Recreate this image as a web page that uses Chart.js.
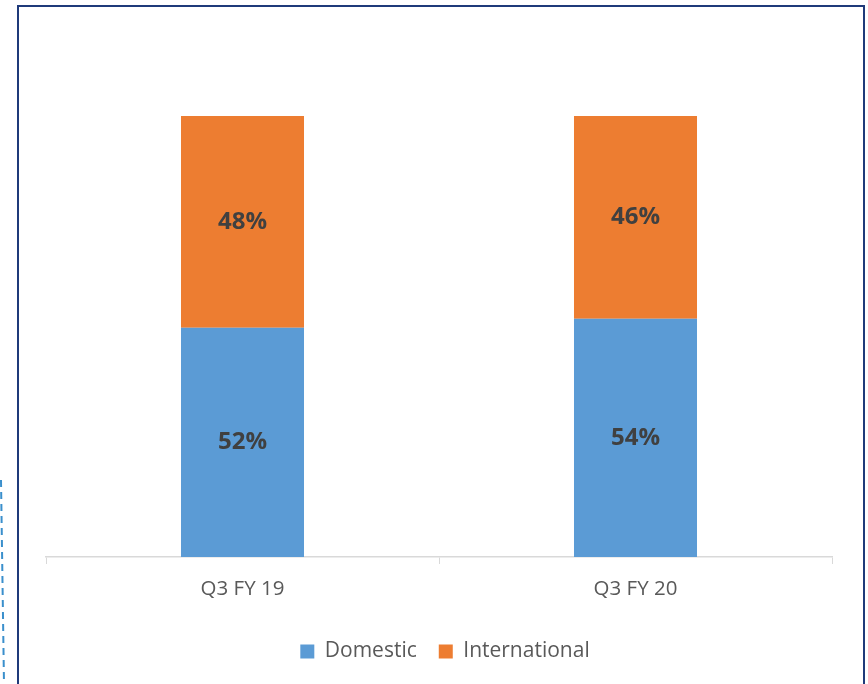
<!DOCTYPE html>
<html lang="en">
<head>
    <meta charset="UTF-8">
    <title>Domestic vs International</title>
    <script src="https://cdn.jsdelivr.net/npm/chart.js"></script>
    <style>
        html, body {
            margin: 0;
            padding: 0;
            background: #ffffff;
            overflow: hidden;
        }

        #wrap {
            position: relative;
            width: 868px;
            height: 684px;
        }

        #frame {
            position: absolute;
            left: 17px;
            top: 5px;
            width: 848px;
            height: 720px;
            box-sizing: border-box;
            border: 2px solid #1f3a7a;
            pointer-events: none;
        }

        canvas {
            position: absolute;
            left: 0;
            top: 0;
        }
    </style>
</head>
<body>
    <div id="wrap">
        <canvas id="shareChart" width="868" height="684"></canvas>
        <div id="frame"></div>
    </div>

    <script>
        const quarters = ["Q3 FY 19", "Q3 FY 20"];
        const domestic = [52, 54];
        const international = [48, 46];

        // percentage labels in the middle of each segment
        const segmentLabels = {
            id: "segmentLabels",
            afterDatasetsDraw(chart) {
                const ctx = chart.ctx;
                ctx.save();
                ctx.font = "bold 24px 'Open Sans'";
                ctx.fillStyle = "#404040";
                ctx.textAlign = "center";
                ctx.textBaseline = "middle";
                chart.data.datasets.forEach((ds, i) => {
                    chart.getDatasetMeta(i).data.forEach((bar, j) => {
                        const mid = (bar.y + bar.base) / 2;
                        ctx.fillText(ds.data[j] + "%", bar.x, mid);
                    });
                });
                ctx.restore();
            }
        };

        // dashed blue edge on the far left of the slide
        const dashedEdge = {
            id: "dashedEdge",
            beforeDraw(chart) {
                const ctx = chart.ctx;
                ctx.save();
                ctx.strokeStyle = "#3a8fcc";
                ctx.lineWidth = 2;
                ctx.setLineDash([7, 5]);
                ctx.beginPath();
                ctx.moveTo(1, 480);
                ctx.lineTo(4, 684);
                ctx.stroke();
                ctx.restore();
            }
        };

        // legend sits a little right of the plot centre in the original
        const nudgeLegend = {
            id: "nudgeLegend",
            afterLayout(chart) {
                chart.legend.left += 6;
                chart.legend.right += 6;
            }
        };

        new Chart(document.getElementById("shareChart"), {
            type: "bar",
            data: {
                labels: quarters,
                datasets: [
                    {
                        label: "Domestic",
                        data: domestic,
                        backgroundColor: "#5b9bd5",
                        barPercentage: 0.313,
                        categoryPercentage: 1
                    },
                    {
                        label: "International",
                        data: international,
                        backgroundColor: "#ed7d31",
                        barPercentage: 0.313,
                        categoryPercentage: 1
                    }
                ]
            },
            options: {
                responsive: false,
                animation: false,
                layout: {
                    padding: { top: 116, left: 46, right: 36, bottom: 12 }
                },
                plugins: {
                    legend: {
                        position: "bottom",
                        labels: {
                            boxWidth: 14,
                            boxHeight: 14,
                            padding: 22,
                            color: "#595959",
                            font: { family: "'Open Sans'", size: 21 }
                        }
                    },
                    tooltip: { enabled: false }
                },
                scales: {
                    x: {
                        stacked: true,
                        grid: {
                            offset: true,
                            drawOnChartArea: false,
                            drawTicks: true,
                            tickLength: 7,
                            color: "#d9d9d9"
                        },
                        border: { color: "#d9d9d9", width: 1.5 },
                        ticks: {
                            color: "#595959",
                            padding: 13,
                            font: { family: "'Open Sans'", size: 20.5 }
                        },
                        afterFit(scale) {
                            scale.height = 62;
                        }
                    },
                    y: {
                        stacked: true,
                        display: false,
                        min: 0,
                        max: 100
                    }
                }
            },
            plugins: [segmentLabels, dashedEdge, nudgeLegend]
        });
    </script>
</body>
</html>
